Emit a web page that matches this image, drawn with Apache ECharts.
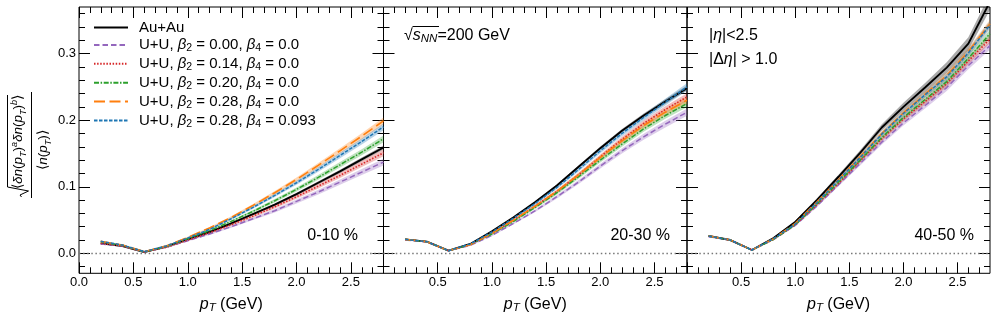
<!DOCTYPE html>
<html><head><meta charset="utf-8">
<script src="https://cdn.jsdelivr.net/npm/echarts@6/dist/echarts.min.js"></script>
<style>html,body{margin:0;padding:0;background:#fff}#c{width:996px;height:319px}</style>
</head><body><div id="c"></div>
<script>
const pT = [0.2,0.4,0.6,0.8,1.0,1.2,1.4,1.6,1.8,2.0,2.2,2.4,2.6,2.8];

// 0-10 %
const au_10     = [0.015,0.011,0.002,0.010,0.021,0.032,0.045,0.059,0.073,0.089,0.106,0.123,0.141,0.159];
const uu000_10  = [0.014,0.011,0.002,0.009,0.019,0.029,0.040,0.052,0.064,0.078,0.092,0.107,0.122,0.137];
const uu014_10  = [0.015,0.011,0.002,0.009,0.020,0.031,0.043,0.056,0.070,0.085,0.101,0.117,0.134,0.151];
const uu020_10  = [0.017,0.012,0.002,0.010,0.022,0.034,0.048,0.063,0.079,0.096,0.114,0.133,0.152,0.172];
const uu028_10  = [0.018,0.0125,0.0025,0.011,0.024,0.038,0.054,0.072,0.091,0.111,0.132,0.154,0.176,0.199];
const uu028b_10 = [0.018,0.0125,0.0025,0.011,0.023,0.036,0.052,0.069,0.087,0.106,0.126,0.147,0.168,0.190];
const errAu_10  = [0.0005,0.0005,0.0005,0.0005,0.0008,0.001,0.0012,0.0015,0.0018,0.002,0.0022,0.0025,0.0028,0.003];
const err_10    = [0.0008,0.0008,0.0008,0.0008,0.001,0.0013,0.0017,0.002,0.0025,0.003,0.0035,0.004,0.0045,0.005];

// 20-30 %
const au_20     = [0.021,0.0175,0.004,0.014,0.033,0.054,0.077,0.102,0.130,0.158,0.184,0.207,0.228,0.248];
const uu000_20  = [0.020,0.017,0.004,0.012,0.027,0.045,0.064,0.085,0.107,0.131,0.154,0.175,0.194,0.212];
const uu014_20  = [0.021,0.0175,0.004,0.013,0.030,0.050,0.071,0.093,0.118,0.145,0.171,0.195,0.216,0.235];
const uu020_20  = [0.021,0.0175,0.004,0.013,0.029,0.048,0.069,0.091,0.115,0.140,0.164,0.187,0.207,0.225];
const uu028_20  = [0.021,0.0175,0.004,0.013,0.030,0.050,0.071,0.093,0.118,0.144,0.169,0.192,0.212,0.230];
const uu028b_20 = [0.021,0.0175,0.004,0.014,0.032,0.053,0.075,0.099,0.126,0.154,0.180,0.204,0.227,0.250];
const errAu_20  = [0.0005,0.0005,0.0005,0.0006,0.0008,0.001,0.0013,0.0016,0.002,0.0023,0.0026,0.003,0.0033,0.0036];
const err_20    = [0.0008,0.0008,0.0008,0.0009,0.0012,0.0015,0.002,0.0025,0.003,0.0035,0.004,0.0045,0.005,0.0055];

// 40-50 %
const au_40     = [0.026,0.020,0.005,0.023,0.047,0.080,0.115,0.151,0.189,0.220,0.249,0.279,0.315,0.378];
const uu000_40  = [0.025,0.020,0.005,0.021,0.042,0.071,0.103,0.135,0.167,0.196,0.222,0.249,0.282,0.312];
const uu014_40  = [0.026,0.020,0.005,0.021,0.043,0.073,0.105,0.139,0.172,0.202,0.228,0.255,0.289,0.322];
const uu020_40  = [0.026,0.020,0.005,0.021,0.043,0.074,0.107,0.140,0.174,0.204,0.231,0.258,0.293,0.330];
const uu028_40  = [0.026,0.020,0.005,0.022,0.045,0.077,0.111,0.145,0.180,0.211,0.239,0.267,0.303,0.345];
const uu028b_40 = [0.026,0.020,0.005,0.022,0.044,0.076,0.110,0.144,0.179,0.210,0.238,0.265,0.301,0.343];
const errAu_40  = [0.001,0.001,0.001,0.0012,0.0018,0.0025,0.0032,0.004,0.005,0.006,0.007,0.008,0.0095,0.012];
const err_40    = [0.0008,0.0008,0.0008,0.001,0.0013,0.0018,0.0023,0.003,0.0035,0.004,0.0045,0.005,0.0055,0.006];

const xMajor = [0,0.5,1.0,1.5,2.0,2.5];
const xMinor = [0.1,0.2,0.3,0.4,0.6,0.7,0.8,0.9,1.1,1.2,1.3,1.4,1.6,1.7,1.8,1.9,2.1,2.2,2.3,2.4,2.6,2.7];
const yMajor = [0,0.1,0.2,0.3];
const yMinor = [-0.02,0.02,0.04,0.06,0.08,0.12,0.14,0.16,0.18,0.22,0.24,0.26,0.28,0.32,0.34,0.36];

const names = ['Au+Au','U+U, β2 = 0.00, β4 = 0.0','U+U, β2 = 0.14, β4 = 0.0','U+U, β2 = 0.20, β4 = 0.0','U+U, β2 = 0.28, β4 = 0.0','U+U, β2 = 0.28, β4 = 0.093'];
const colors = ['#000000','#9467bd','#d62728','#2ca02c','#ff7f0e','#1f77b4'];
const bandColors = ['rgba(0,0,0,0.33)','rgba(148,103,189,0.32)','rgba(214,39,40,0.3)','rgba(44,160,44,0.3)','rgba(255,127,14,0.32)','rgba(31,119,180,0.32)'];
const dashes = ['solid',[5.5,3],[1.5,1.6],[5,1.6,1.5,1.6],[11,4.5],[3.5,1.5]];
const widths = [1.9,1.5,1.6,1.5,1.6,1.5];
const centralities = ['0-10 %','20-30 %','40-50 %'];

const panels = [
  {lines:[au_10,uu000_10,uu014_10,uu020_10,uu028_10,uu028b_10], errAu:errAu_10, err:err_10},
  {lines:[au_20,uu000_20,uu014_20,uu020_20,uu028_20,uu028b_20], errAu:errAu_20, err:err_20},
  {lines:[au_40,uu000_40,uu014_40,uu020_40,uu028_40,uu028b_40], errAu:errAu_40, err:err_40}
];

const FONT = '"Liberation Sans", Arial, Helvetica, sans-serif';
const gridLeft = [79, 383.5, 687];
const gridWidth = [304.5, 303.5, 303];

const richBase = {
  t:{fontFamily:FONT,fontSize:16,lineHeight:18,color:'#000'},
  i:{fontFamily:FONT,fontSize:16,lineHeight:18,fontStyle:'italic',color:'#000'},
  s:{fontFamily:FONT,fontSize:11.5,lineHeight:8,verticalAlign:'bottom',fontStyle:'italic',color:'#000'}
};

const grids = [], xAxes = [], yAxes = [], series = [];
panels.forEach((p, g) => {
  grids.push({left:gridLeft[g], width:gridWidth[g], top:7, height:266.3, show:true, borderColor:'#000', borderWidth:1, backgroundColor:'transparent'});
  const common = {gridIndex:g, type:'value', min:0, max:2.8, axisLine:{show:false, onZero:false}, splitLine:{show:false}};
  xAxes.push(Object.assign({}, common, {position:'bottom',
    axisTick:{show:true, inside:true, length:11, customValues:xMajor, lineStyle:{color:'#000',width:1}},
    axisLabel:{show:true, customValues: g===0 ? xMajor : xMajor.slice(1), formatter:v=>v.toFixed(1), margin:3, fontSize:13, color:'#000', fontFamily:FONT},
    name:'{i|p}{s|T}{t| (GeV)}', nameLocation:'middle', nameGap:22, nameTextStyle:{rich:richBase}}));
  xAxes.push(Object.assign({}, common, {position:'bottom',
    axisTick:{show:true, inside:true, length:6, customValues:xMinor, lineStyle:{color:'#000',width:1}}, axisLabel:{show:false}}));
  xAxes.push(Object.assign({}, common, {position:'top',
    axisTick:{show:true, inside:true, length:11, customValues:xMajor, lineStyle:{color:'#000',width:1}}, axisLabel:{show:false}}));
  xAxes.push(Object.assign({}, common, {position:'top',
    axisTick:{show:true, inside:true, length:6, customValues:xMinor, lineStyle:{color:'#000',width:1}}, axisLabel:{show:false}}));
  const ycommon = {gridIndex:g, type:'value', min:-0.03, max:0.37, axisLine:{show:false, onZero:false}, splitLine:{show:false}};
  yAxes.push(Object.assign({}, ycommon, {position:'left',
    axisTick:{show:true, inside:true, length:11, customValues:yMajor, lineStyle:{color:'#000',width:1}},
    axisLabel:{show:g===0, customValues:yMajor, formatter:v=>v.toFixed(1), margin:3, fontSize:13, color:'#000', fontFamily:FONT}}));
  yAxes.push(Object.assign({}, ycommon, {position:'left',
    axisTick:{show:true, inside:true, length:6, customValues:yMinor, lineStyle:{color:'#000',width:1}}, axisLabel:{show:false}}));
  yAxes.push(Object.assign({}, ycommon, {position:'right',
    axisTick:{show:true, inside:true, length:11, customValues:yMajor, lineStyle:{color:'#000',width:1}}, axisLabel:{show:false}}));
  yAxes.push(Object.assign({}, ycommon, {position:'right',
    axisTick:{show:true, inside:true, length:6, customValues:yMinor, lineStyle:{color:'#000',width:1}}, axisLabel:{show:false}}));

  // uncertainty bands
  p.lines.forEach((vals, s) => {
    const e = s === 0 ? p.errAu : p.err;
    series.push({type:'custom', name:'band'+g+'_'+s, xAxisIndex:g*4, yAxisIndex:g*4, silent:true, z:1, clip:true, animation:false,
      data:[[pT[0], vals[0]]],
      renderItem:(params, api) => {
        const pts = [];
        for (let i = 0; i < pT.length; i++) pts.push(api.coord([pT[i], vals[i] + e[i]]));
        for (let i = pT.length - 1; i >= 0; i--) pts.push(api.coord([pT[i], vals[i] - e[i]]));
        return {type:'polygon', shape:{points:pts}, style:{fill:bandColors[s], stroke:null}};
      }});
  });
  // central lines
  p.lines.forEach((vals, s) => {
    const ser = {type:'line', name:names[s], xAxisIndex:g*4, yAxisIndex:g*4, symbol:'none', silent:true, z:3, animation:false,
      data:pT.map((x,i)=>[x, vals[i]]),
      itemStyle:{color:colors[s]},
      lineStyle:{color:colors[s], width:widths[s], type:dashes[s], cap:'butt'}};
    if (s === 0) {
      ser.markLine = {silent:true, symbol:'none', animation:false, label:{show:false},
        lineStyle:{type:[1.5,2.6], color:'#777', width:1.3}, data:[{yAxis:0}]};
    }
    series.push(ser);
  });
});

function legendRich(n){
  return '{p| }{t|' + n.replace(/β(\d)/g, '}{g|β}{s|$1}{t|') + '}';
}

const annot = (x, y, text, align, rich) => ({type:'text', x:x, y:y, silent:true, z:10,
  style:{text:text, align:align, verticalAlign:'middle', fill:'#000', font:'16px '+FONT, rich:rich}});

const numRich = {
  t:{fontFamily:FONT,fontSize:13.5,lineHeight:18,color:'#000'},
  i:{fontFamily:FONT,fontSize:13.5,lineHeight:18,fontStyle:'italic',color:'#000'},
  s:{fontFamily:FONT,fontSize:9,lineHeight:6,verticalAlign:'bottom',fontStyle:'italic',color:'#000'},
  u:{fontFamily:FONT,fontSize:9,lineHeight:8,verticalAlign:'top',fontStyle:'italic',color:'#000'}
};

const graphics = [
  {type:'group', x:31.5, y:145, rotation:Math.PI/2, silent:true, z:10, children:[
    {type:'line', shape:{x1:-53,y1:0,x2:53,y2:0}, style:{stroke:'#000', lineWidth:1}},
    {type:'polyline', shape:{points:[[-52,-10],[-50,-11.5],[-46,-3],[-42,-24],[50,-24]]}, style:{stroke:'#000', lineWidth:1, fill:null}},
    {type:'text', x:3, y:-4, style:{text:'{t|⟨}{i|δn}{t|(}{i|p}{s|T}{t|)}{u|a}{i|δn}{t|(}{i|p}{s|T}{t|)}{u|b}{t|⟩}', align:'center', verticalAlign:'bottom', rich:numRich}},
    {type:'text', x:-5, y:3, style:{text:'{t|⟨}{i|n}{t|(}{i|p}{s|T}{t|)}{t|⟩}', align:'center', verticalAlign:'top', rich:numRich}}
  ]},
  annot(358, 236, centralities[0], 'right'),
  annot(670, 236, centralities[1], 'right'),
  annot(974, 236, centralities[2], 'right'),
  annot(404, 36, '{t|√}{i|s}{s|NN}{t|=200 GeV}', 'left', richBase),
  {type:'line', shape:{x1:412.5, y1:26.5, x2:439, y2:26.5}, style:{stroke:'#000', lineWidth:1}, silent:true, z:10},
  annot(709, 36, '{t||}{i|η}{t||<2.5}', 'left', richBase),
  annot(709, 60, '{t||Δ}{i|η}{t|| > 1.0}', 'left', richBase)
];

const chart = echarts.init(document.getElementById('c'), null, {renderer:'canvas'});
chart.setOption({
  animation:false,
  backgroundColor:'#fff',
  grid:grids, xAxis:xAxes, yAxis:yAxes, series:series,
  legend:{data:names, orient:'vertical', left:88, top:15, padding:5, itemWidth:34, itemHeight:14, itemGap:2.4,
    selectedMode:false, formatter:legendRich,
    itemStyle:{color:'rgba(0,0,0,0)', borderWidth:0, opacity:0},
    textStyle:{fontFamily:FONT, fontSize:15, color:'#000', rich:{
      p:{width:6, fontSize:15, lineHeight:18},
      t:{fontFamily:FONT,fontSize:15,lineHeight:18,color:'#000'},
      g:{fontFamily:FONT,fontSize:15,lineHeight:18,fontStyle:'italic',color:'#000'},
      s:{fontFamily:FONT,fontSize:10.5,lineHeight:8,verticalAlign:'bottom',color:'#000'}
    }}},
  graphic:graphics
});
</script></body></html>
